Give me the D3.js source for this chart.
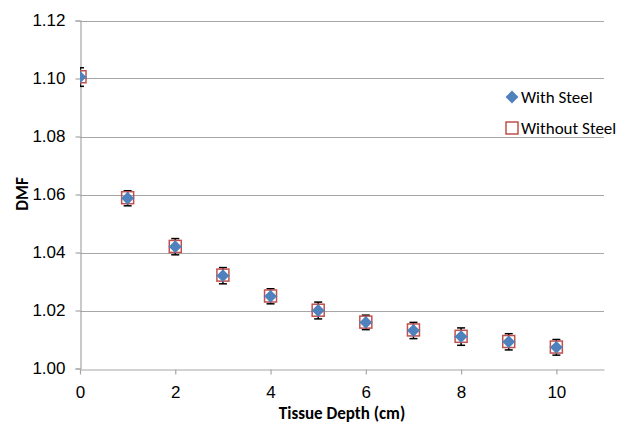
<!DOCTYPE html>
<html>
<head>
<meta charset="utf-8">
<script src="https://cdn.jsdelivr.net/npm/d3@7"></script>
<style>
  html, body { margin: 0; padding: 0; background: #fff; }
  svg { display: block; font-family: Carlito, Calibri, Lato, "Liberation Sans", sans-serif; }
</style>
</head>
<body>
<svg id="chart" width="618" height="426"></svg>
<script>
const depths = [0, 1, 2, 3, 4, 5, 6, 7, 8, 9, 10];
const withSteel = [1.1005, 1.0587, 1.0420, 1.0320, 1.0249, 1.0200, 1.0159, 1.0131, 1.0110, 1.0092, 1.0073];
const withoutSteel = [1.1006, 1.0589, 1.0421, 1.0322, 1.0250, 1.0201, 1.0160, 1.0133, 1.0111, 1.0093, 1.0074];
const errors = [0.0032, 0.0026, 0.0028, 0.0028, 0.0026, 0.0029, 0.0025, 0.0028, 0.0030, 0.0028, 0.0027];
const xErr = 0.14;
const xTicks = [0, 2, 4, 6, 8, 10];
const yTicks = [1.00, 1.02, 1.04, 1.06, 1.08, 1.10, 1.12];
const seriesNames = ["With Steel", "Without Steel"];

const svg = d3.select("#chart");
const x = d3.scaleLinear().domain([0, 11]).range([80, 604]);
const y = d3.scaleLinear().domain([1.00, 1.12]).range([368.5, 20.5]);
const FS = 17;

svg.append("defs").append("clipPath").attr("id", "plotclip")
  .append("rect").attr("x", 80).attr("y", 0).attr("width", 530).attr("height", 380);

// gridlines
svg.append("g").selectAll("line").data(yTicks.slice(1)).join("line")
  .attr("x1", 80).attr("x2", 604)
  .attr("y1", d => Math.round(y(d)) + 0.5).attr("y2", d => Math.round(y(d)) + 0.5)
  .attr("stroke", "#a6a6a6").attr("stroke-width", 1.2);

// y axis
const yAxis = d3.axisLeft(y).tickValues(yTicks).tickFormat(d3.format(".2f")).tickSize(5).tickPadding(10);
const gy = svg.append("g").attr("transform", "translate(80.5,0)").call(yAxis);
gy.select(".domain").attr("stroke", "#a6a6a6").attr("stroke-width", 1.2);
gy.selectAll(".tick line").attr("stroke", "#a6a6a6").attr("stroke-width", 1.2);
gy.selectAll("text").attr("font-size", FS).attr("fill", "#000").attr("font-family", null);

// x axis
const xAxis = d3.axisBottom(x).tickValues(xTicks).tickFormat(d3.format("d")).tickSize(5).tickSizeOuter(0).tickPadding(11);
const gx = svg.append("g").attr("transform", "translate(0," + (Math.round(y(1.00)) + 0.5) + ")").call(xAxis);
gx.select(".domain").attr("stroke", "#a6a6a6").attr("stroke-width", 1.2);
gx.selectAll(".tick line").attr("stroke", "#a6a6a6").attr("stroke-width", 1.2);
gx.selectAll("text").attr("font-size", FS).attr("fill", "#000").attr("font-family", null);

// axis titles
svg.append("text").attr("x", 342).attr("y", 419).attr("text-anchor", "middle")
  .attr("font-size", FS).attr("font-weight", "bold").text("Tissue Depth (cm)");
svg.append("text").attr("transform", "translate(28,194) rotate(-90)").attr("text-anchor", "middle")
  .attr("font-size", FS).attr("font-weight", "bold").text("DMF");

const plot = svg.append("g").attr("clip-path", "url(#plotclip)");

// error bars (black)
const eb = plot.append("g").attr("stroke", "#000").attr("stroke-width", 1.5);
depths.forEach((d, i) => {
  const cx = x(d);
  const y1 = y(withSteel[i] - errors[i]), y2 = y(withSteel[i] + errors[i]);
  eb.append("line").attr("x1", cx).attr("x2", cx).attr("y1", y1).attr("y2", y2);
  eb.append("line").attr("x1", cx - 4).attr("x2", cx + 4).attr("y1", y1).attr("y2", y1);
  eb.append("line").attr("x1", cx - 4).attr("x2", cx + 4).attr("y1", y2).attr("y2", y2);
});

// without steel squares
plot.append("g").selectAll("rect").data(depths).join("rect")
  .attr("x", (d, i) => x(d) - 6).attr("y", (d, i) => y(withoutSteel[i]) - 6)
  .attr("width", 12).attr("height", 12)
  .attr("fill", "none").attr("stroke", "#c0504d").attr("stroke-width", 1.5);

// horizontal error bars (blue) for with-steel
plot.append("g").selectAll("line").data(depths).join("line")
  .attr("x1", d => x(d - xErr)).attr("x2", d => x(d + xErr))
  .attr("y1", (d, i) => y(withSteel[i])).attr("y2", (d, i) => y(withSteel[i]))
  .attr("stroke", "#4f81bd").attr("stroke-width", 1.2);

// with steel diamonds
plot.append("g").selectAll("path").data(depths).join("path")
  .attr("transform", (d, i) => "translate(" + x(d) + "," + y(withSteel[i]) + ") rotate(45)")
  .attr("d", d3.symbol().type(d3.symbolSquare).size(82))
  .attr("fill", "#4f81bd");

// legend
const lg = svg.append("g");
lg.append("path").attr("transform", "translate(512,97) rotate(45)")
  .attr("d", d3.symbol().type(d3.symbolSquare).size(82)).attr("fill", "#4f81bd");
lg.append("rect").attr("x", 506).attr("y", 122).attr("width", 12).attr("height", 12)
  .attr("fill", "none").attr("stroke", "#c0504d").attr("stroke-width", 1.5);
lg.append("text").attr("x", 521).attr("y", 103).attr("font-size", FS).text(seriesNames[0]);
lg.append("text").attr("x", 521).attr("y", 134).attr("font-size", FS).text(seriesNames[1]);
</script>
</body>
</html>
